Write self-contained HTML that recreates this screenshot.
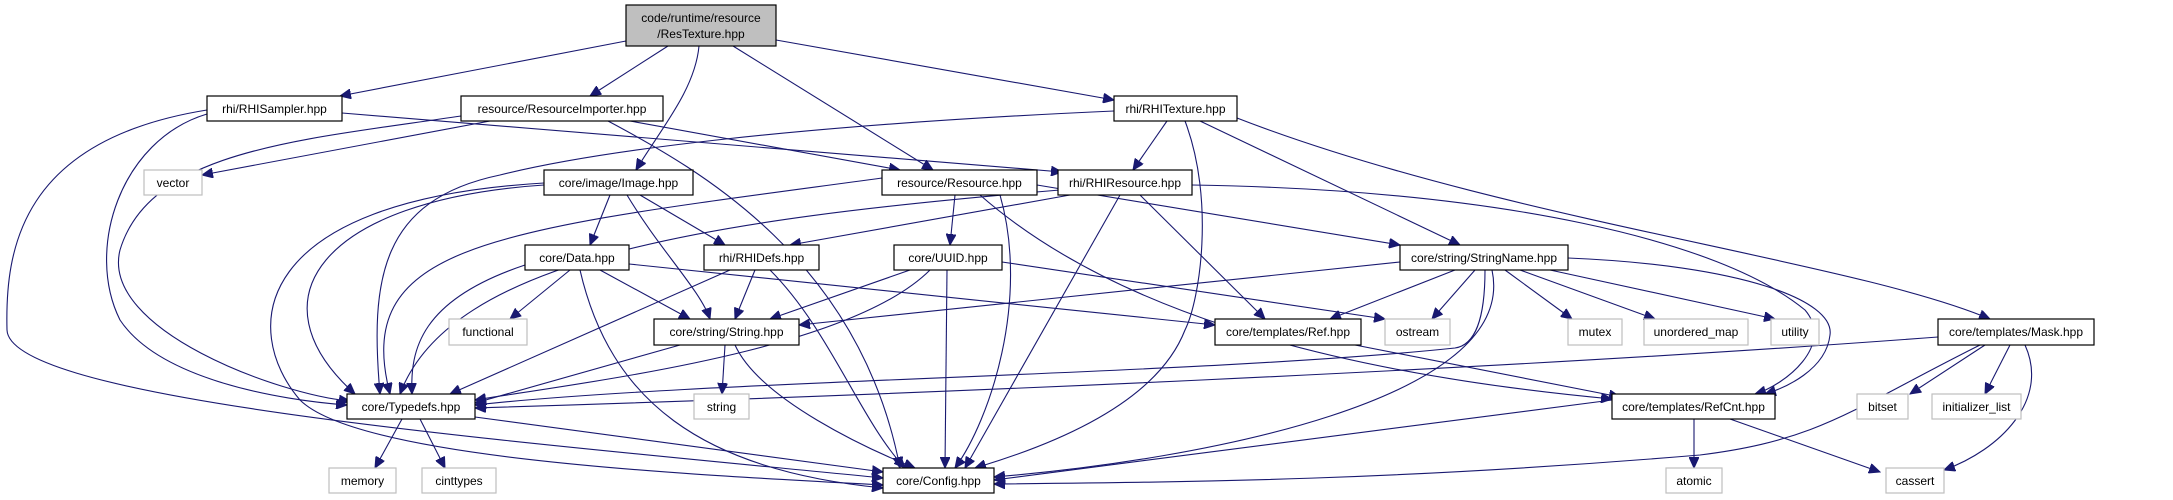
<!DOCTYPE html>
<html><head><meta charset="utf-8"><style>
html,body{margin:0;padding:0;background:#fff;}
svg{display:block;}
text{font-family:"Liberation Sans",sans-serif;font-size:12px;fill:#000;}
.n{fill:#fff;stroke:#000;stroke-width:1.2;}
.s{fill:#fff;stroke:#bfbfbf;stroke-width:1.2;}
.e{fill:none;stroke:#191970;stroke-width:1.1;}
</style></head><body>
<svg width="2173" height="500" viewBox="0 0 2173 500" xmlns="http://www.w3.org/2000/svg">
<defs><marker id="a" markerUnits="userSpaceOnUse" markerWidth="12" markerHeight="10" refX="11" refY="5" orient="auto"><path d="M0,0 L11,5 L0,10 z" fill="#191970" stroke="#191970"/></marker></defs>
<g class="e" marker-end="url(#a)">
<path d="M626,41 L340,96"/>
<path d="M668,46 L590,96"/>
<path d="M699,46 C695,90 660,130 636,170"/>
<path d="M733,46 L933,170"/>
<path d="M776,40 L1114,100"/>
<path d="M342,113 L1062,172"/>
<path d="M207,114 C120,140 85,250 120,320 C160,380 280,400 347,405"/>
<path d="M207,110 C20,140 5,250 7,330 C10,400 500,440 883,478"/>
<path d="M490,121 L202,175"/>
<path d="M630,121 L900,170"/>
<path d="M608,121 C700,170 860,260 900,468"/>
<path d="M461,116 C300,140 150,150 120,250 C100,330 280,395 350,401"/>
<path d="M1114,111 C800,125 600,150 500,175 C380,200 370,280 380,394"/>
<path d="M1167,121 L1133,170"/>
<path d="M1185,121 C1215,200 1200,300 1185,330 C1150,420 1000,460 975,468"/>
<path d="M1200,121 L1460,245"/>
<path d="M1237,118 C1500,220 1850,260 1990,319"/>
<path d="M610,195 L590,245"/>
<path d="M640,195 L725,245"/>
<path d="M627,195 C660,250 700,290 710,319"/>
<path d="M544,185 C320,200 250,300 355,394"/>
<path d="M544,183 C250,200 240,330 300,400 C360,460 700,475 883,485"/>
<path d="M955,195 L950,245"/>
<path d="M882,178 C500,230 350,240 390,394"/>
<path d="M1000,195 C1030,300 990,420 955,468"/>
<path d="M980,195 C1100,300 1300,370 1612,399"/>
<path d="M1037,185 L1400,245"/>
<path d="M1070,195 L790,245"/>
<path d="M1060,190 C700,220 450,260 400,394"/>
<path d="M1120,195 L965,468"/>
<path d="M1140,195 L1265,319"/>
<path d="M1192,185 C1500,190 1720,240 1805,310 C1835,345 1785,385 1755,394"/>
<path d="M570,270 L510,319"/>
<path d="M600,270 L690,319"/>
<path d="M525,265 C420,300 410,350 412,394"/>
<path d="M580,270 C610,400 700,470 883,488"/>
<path d="M629,264 L1215,325"/>
<path d="M730,270 L450,394"/>
<path d="M755,270 L735,319"/>
<path d="M770,270 C830,330 860,420 905,468"/>
<path d="M910,270 L770,319"/>
<path d="M930,270 C850,350 600,380 475,400"/>
<path d="M947,270 L945,468"/>
<path d="M1002,262 L1385,319"/>
<path d="M680,345 L475,403"/>
<path d="M725,345 L722,394"/>
<path d="M735,345 C760,400 870,450 915,468"/>
<path d="M1400,262 L799,325"/>
<path d="M1455,270 L1330,319"/>
<path d="M1475,270 L1432,319"/>
<path d="M1505,270 L1572,319"/>
<path d="M1520,270 L1655,319"/>
<path d="M1550,270 L1775,319"/>
<path d="M1485,270 C1485,320 1475,345 1455,348 C1200,375 700,380 475,405"/>
<path d="M1492,270 C1520,400 1200,460 994,477"/>
<path d="M1568,258 C1740,265 1835,300 1830,335 C1826,370 1785,388 1765,394"/>
<path d="M1938,337 C1500,370 900,395 475,408"/>
<path d="M1985,345 L1910,394"/>
<path d="M2010,345 L1985,394"/>
<path d="M2025,345 C2050,400 2000,450 1944,470"/>
<path d="M1980,345 C1850,410 1820,440 1700,455 C1400,480 1200,482 994,484"/>
<path d="M1355,345 L1620,397"/>
<path d="M1612,400 L994,480"/>
<path d="M1694,419 L1694,468"/>
<path d="M1730,419 L1880,472"/>
<path d="M402,419 L375,468"/>
<path d="M420,419 L445,468"/>
<path d="M475,417 L883,472"/>
</g>
<g>
<rect x="626" y="5" width="150" height="41" fill="#bfbfbf" stroke="#000" stroke-width="1.2"/>
<text x="701" y="22" text-anchor="middle">code/runtime/resource</text>
<text x="701" y="38" text-anchor="middle">/ResTexture.hpp</text>
</g>
<g text-anchor="middle">
<rect class="n" x="207" y="96" width="135" height="25"/><text x="274.5" y="113">rhi/RHISampler.hpp</text>
<rect class="n" x="461" y="96" width="202" height="25"/><text x="562" y="113">resource/ResourceImporter.hpp</text>
<rect class="n" x="1114" y="96" width="123" height="25"/><text x="1175.5" y="113">rhi/RHITexture.hpp</text>
<rect class="s" x="144" y="170" width="58" height="25"/><text x="173" y="187">vector</text>
<rect class="n" x="544" y="170" width="149" height="25"/><text x="618.5" y="187">core/image/Image.hpp</text>
<rect class="n" x="882" y="170" width="155" height="25"/><text x="959.5" y="187">resource/Resource.hpp</text>
<rect class="n" x="1058" y="170" width="134" height="25"/><text x="1125" y="187">rhi/RHIResource.hpp</text>
<rect class="n" x="525" y="245" width="104" height="25"/><text x="577" y="262">core/Data.hpp</text>
<rect class="n" x="704" y="245" width="115" height="25"/><text x="761.5" y="262">rhi/RHIDefs.hpp</text>
<rect class="n" x="894" y="245" width="108" height="25"/><text x="948" y="262">core/UUID.hpp</text>
<rect class="n" x="1400" y="245" width="168" height="25"/><text x="1484" y="262">core/string/StringName.hpp</text>
<rect class="s" x="449" y="319" width="78" height="26"/><text x="488" y="336">functional</text>
<rect class="n" x="654" y="319" width="145" height="26"/><text x="726.5" y="336">core/string/String.hpp</text>
<rect class="n" x="1215" y="319" width="146" height="26"/><text x="1288" y="336">core/templates/Ref.hpp</text>
<rect class="s" x="1385" y="319" width="65" height="26"/><text x="1417.5" y="336">ostream</text>
<rect class="s" x="1568" y="319" width="54" height="26"/><text x="1595" y="336">mutex</text>
<rect class="s" x="1644" y="319" width="104" height="26"/><text x="1696" y="336">unordered_map</text>
<rect class="s" x="1771" y="319" width="48" height="26"/><text x="1795" y="336">utility</text>
<rect class="n" x="1938" y="319" width="156" height="26"/><text x="2016" y="336">core/templates/Mask.hpp</text>
<rect class="n" x="347" y="394" width="128" height="25"/><text x="411" y="411">core/Typedefs.hpp</text>
<rect class="s" x="694" y="394" width="55" height="25"/><text x="721.5" y="411">string</text>
<rect class="n" x="1612" y="394" width="163" height="25"/><text x="1693.5" y="411">core/templates/RefCnt.hpp</text>
<rect class="s" x="1857" y="394" width="51" height="25"/><text x="1882.5" y="411">bitset</text>
<rect class="s" x="1932" y="394" width="89" height="25"/><text x="1976.5" y="411">initializer_list</text>
<rect class="s" x="329" y="468" width="67" height="25"/><text x="362.5" y="485">memory</text>
<rect class="s" x="422" y="468" width="74" height="25"/><text x="459" y="485">cinttypes</text>
<rect class="n" x="883" y="468" width="111" height="25"/><text x="938.5" y="485">core/Config.hpp</text>
<rect class="s" x="1666" y="468" width="56" height="25"/><text x="1694" y="485">atomic</text>
<rect class="s" x="1886" y="468" width="58" height="25"/><text x="1915" y="485">cassert</text>
</g>
</svg>
</body></html>
